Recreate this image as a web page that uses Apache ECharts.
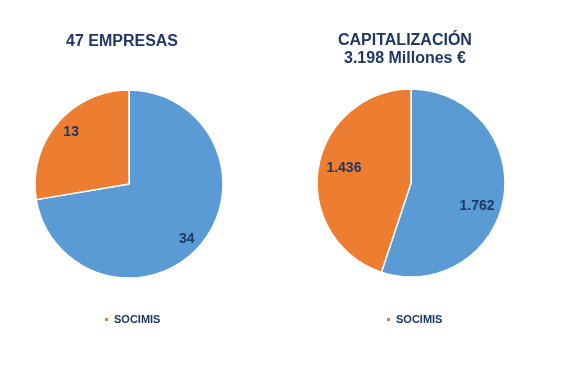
<!DOCTYPE html>
<html><head><meta charset="utf-8">
<script src="https://cdn.jsdelivr.net/npm/echarts@6/dist/echarts.min.js"></script>
<style>html,body{margin:0;padding:0;background:#fff}#c{width:561px;height:373px}</style>
</head><body><div id="c"></div>
<script>
const categories = ['OTRAS', 'SOCIMIS'];
const empresasValues = [34, 13];
const capitalValues = [1762, 1436];
const titles = ['47 EMPRESAS', 'CAPITALIZACIÓN', '3.198 Millones €'];
const legendItems = ['SOCIMIS'];

const navy = '#1F3864';
const colors = ['#5B9BD5', '#ED7D31'];
const fmt = v => String(v).replace(/\B(?=(\d{3})+(?!\d))/g, '.');
function mk(values, offsets) {
  return categories.map((n, i) => {
    const d = { name: n, value: values[i] };
    if (offsets) d.label = { offset: offsets[i] };
    return d;
  });
}

const chart = echarts.init(document.getElementById('c'), null, { renderer: 'canvas' });
const ff = '"Liberation Sans", Arial, sans-serif';
function pieBase(values, center, r) {
  return {
    type: 'pie', center: center, radius: r, startAngle: 90, clockwise: true,
    data: mk(values), label: { show: false }, labelLine: { show: false },
    itemStyle: { borderColor: '#fff', borderWidth: 1.5 },
    emphasis: { disabled: true }, animation: false
  };
}
function pieLabels(values, center, r, offsets) {
  return {
    type: 'pie', center: center, radius: r, startAngle: 90, clockwise: true,
    data: mk(values, offsets), silent: true,
    itemStyle: { color: 'rgba(0,0,0,0)' },
    label: { show: true, position: 'inside', formatter: p => fmt(p.value),
      color: navy, fontFamily: ff, fontWeight: 'bold', fontSize: 14 },
    labelLine: { show: false }, emphasis: { disabled: true }, animation: false,
    legendHoverLink: false
  };
}
chart.setOption({
  color: colors,
  animation: false,
  title: [
    { text: titles[0], left: 66, top: 34, padding: 0, textStyle: { color: navy, fontFamily: ff, fontWeight: 'bold', fontSize: 16 } },
    { text: titles[1], left: 338, top: 33, padding: 0, textStyle: { color: navy, fontFamily: ff, fontWeight: 'bold', fontSize: 16 } },
    { text: titles[2], left: 344, top: 51, padding: 0, textStyle: { color: navy, fontFamily: ff, fontWeight: 'bold', fontSize: 16 } }
  ],
  legend: [
    { data: legendItems, left: 103, top: 314, padding: 0, icon: 'rect', itemWidth: 5, itemHeight: 5,
      textStyle: { color: navy, fontFamily: ff, fontWeight: 'bold', fontSize: 11 }, selectedMode: false },
    { data: legendItems, left: 385, top: 314, padding: 0, icon: 'rect', itemWidth: 5, itemHeight: 5,
      textStyle: { color: navy, fontFamily: ff, fontWeight: 'bold', fontSize: 11 }, selectedMode: false }
  ],
  series: [
    pieBase(empresasValues, [129, 184], 94),
    pieLabels(empresasValues, [129, 184], [62, 94], [[-4, 3], [4, 0]]),
    pieBase(capitalValues, [411, 183], 94),
    pieLabels(capitalValues, [411, 183], [44, 94], [[-5, 12], [4, -3]])
  ]
});
</script></body></html>
